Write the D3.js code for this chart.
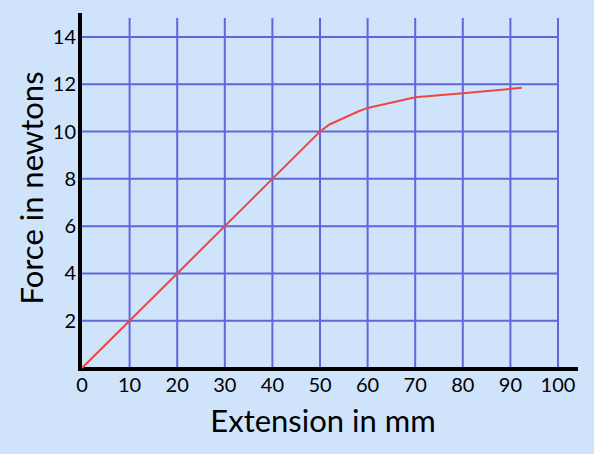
<!DOCTYPE html>
<html><head><meta charset="utf-8">
<script src="https://cdn.jsdelivr.net/npm/d3@7"></script>
<style>body{margin:0;background:#cfe4fb;}svg{display:block;}</style>
</head><body>
<script>
const extension = [0, 10, 20, 30, 40, 50, 52, 58, 60, 70, 80, 92.4];
const force     = [0, 2, 4, 6, 8, 10, 10.3, 10.85, 11, 11.45, 11.62, 11.85];
const xTicks = [0, 10, 20, 30, 40, 50, 60, 70, 80, 90, 100];
const yTicks = [2, 4, 6, 8, 10, 12, 14];
const xTitle = "Extension in mm";
const yTitle = "Force in newtons";

const W = 594, H = 454;
const svg = d3.select("body").append("svg").attr("width", W).attr("height", H);
svg.append("rect").attr("width", W).attr("height", H).attr("fill", "#cfe4fb");

const x = d3.scaleLinear().domain([0, 100]).range([82, 558]);
const y = d3.scaleLinear().domain([0, 14]).range([368, 37]);
const font = "Lato, 'Open Sans', sans-serif";
const gridColor = "#6266dc";

// grid
svg.append("g").selectAll("line").data(xTicks.filter(d => d > 0)).join("line")
  .attr("x1", d => x(d)).attr("x2", d => x(d))
  .attr("y1", y(14.8)).attr("y2", y(0))
  .attr("stroke", gridColor).attr("stroke-width", 2);
svg.append("g").selectAll("line").data(yTicks).join("line")
  .attr("x1", x(0)).attr("x2", x(100))
  .attr("y1", d => y(d)).attr("y2", d => y(d))
  .attr("stroke", gridColor).attr("stroke-width", 2);

// axes lines
svg.append("line").attr("x1", x(0) - 2).attr("x2", x(0) - 2).attr("y1", 13).attr("y2", y(0) + 2)
  .attr("stroke", "#000").attr("stroke-width", 4);
svg.append("line").attr("x1", x(0) - 4).attr("x2", 578).attr("y1", y(0) + 1).attr("y2", y(0) + 1)
  .attr("stroke", "#000").attr("stroke-width", 4);

// tick labels
svg.append("g").selectAll("text").data(xTicks).join("text")
  .attr("x", d => x(d)).attr("y", 392)
  .attr("text-anchor", "middle").attr("font-family", font).attr("font-size", 20)
  .attr("fill", "#000").text(d => d);
svg.append("g").selectAll("text").data(yTicks).join("text")
  .attr("x", 76).attr("y", d => y(d)).attr("dy", "0.35em")
  .attr("text-anchor", "end").attr("font-family", font).attr("font-size", 20)
  .attr("fill", "#000").text(d => d);

// titles
svg.append("text").attr("x", 323).attr("y", 432).attr("text-anchor", "middle")
  .attr("font-family", font).attr("font-size", 31).attr("fill", "#000").text(xTitle);
svg.append("text").attr("transform", "translate(43,188) rotate(-90)").attr("text-anchor", "middle")
  .attr("font-family", font).attr("font-size", 31).attr("fill", "#000").text(yTitle);

// data line
const pts = extension.map((e, i) => [e, force[i]]);
svg.append("path").datum(pts)
  .attr("d", d3.line().x(d => x(d[0])).y(d => y(d[1])))
  .attr("fill", "none").attr("stroke", "#f0463f").attr("stroke-width", 2);
</script>
</body></html>
